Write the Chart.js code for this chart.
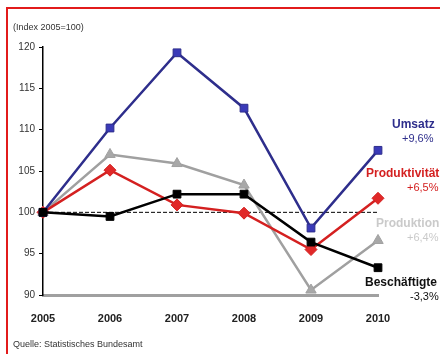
<!DOCTYPE html>
<html>
<head>
<meta charset="utf-8">
<script src="https://cdn.jsdelivr.net/npm/chart.js@4.4.1/dist/chart.umd.min.js"></script>
<style>
  html, body { margin: 0; padding: 0; background: #fff; }
  #wrap { position: relative; width: 440px; height: 354px; }
</style>
</head>
<body>
<div id="wrap"><canvas id="chart" width="440" height="354"></canvas></div>
<script>
'use strict';

const years = ['2005', '2006', '2007', '2008', '2009', '2010'];
const umsatz = [100, 110.2, 119.3, 112.6, 98.1, 107.5];
const produktivitaet = [100, 105.1, 100.9, 99.9, 95.5, 101.7];
const produktion = [100, 107.0, 105.9, 103.3, 90.6, 96.6];
const beschaeftigte = [100, 99.5, 102.2, 102.2, 96.4, 93.3];
const baseline = [100, 100, 100, 100, 100, 100];
const yTicks = [90, 95, 100, 105, 110, 115, 120];

const seriesNames = ['Umsatz', 'Produktivität', 'Produktion', 'Beschäftigte'];
const seriesChanges = ['+9,6%', '+6,5%', '+6,4%', '-3,3%'];

// Beschriftungen rechts neben den Linien
const endLabels = {
  id: 'endLabels',
  afterDraw(chart) {
    const ctx = chart.ctx;
    const spots = [
      { x: 392, y: 125, x2: 402, color: '#2e2e8c' },
      { x: 366, y: 174, x2: 407, color: '#d42020' },
      { x: 376, y: 224, x2: 407, color: '#cacaca' },
      { x: 365, y: 283, x2: 410, color: '#111' },
    ];
    ctx.save();
    ctx.textBaseline = 'middle';
    ctx.textAlign = 'left';
    seriesNames.forEach((name, i) => {
      const s = spots[i];
      ctx.fillStyle = s.color;
      ctx.font = 'bold 12px "Liberation Sans", Arial, sans-serif';
      ctx.fillText(name, s.x, s.y);
      ctx.font = '11px "Liberation Sans", Arial, sans-serif';
      ctx.fillText(seriesChanges[i], s.x2, s.y + 14);
    });

    ctx.fillStyle = '#333';
    ctx.font = '9px "Liberation Sans", Arial, sans-serif';
    ctx.fillText('(Index 2005=100)', 13, 28);
    ctx.fillText('Quelle: Statistisches Bundesamt', 13, 345);

    // roter Rahmen
    ctx.strokeStyle = '#e21b1b';
    ctx.lineWidth = 2;
    ctx.beginPath();
    ctx.moveTo(7, 354);
    ctx.lineTo(7, 8);
    ctx.lineTo(440, 8);
    ctx.stroke();
    ctx.restore();
  },
};

const ctx = document.getElementById('chart').getContext('2d');
new Chart(ctx, {
  type: 'line',
  data: {
    labels: years,
    datasets: [
      {
        label: 'Umsatz',
        data: umsatz,
        borderColor: '#2e2e8c',
        backgroundColor: '#3a3ab8',
        borderWidth: 2.5,
        pointStyle: 'rect',
        pointRadius: 5.5,
        pointBorderWidth: 1,
        order: 1,
      },
      {
        label: 'Produktivität',
        data: produktivitaet,
        borderColor: '#d42020',
        backgroundColor: '#e02828',
        borderWidth: 2.5,
        pointStyle: 'rectRot',
        pointRadius: 6,
        pointBorderWidth: 1,
        order: 2,
      },
      {
        label: 'Produktion',
        data: produktion,
        borderColor: '#a0a0a0',
        backgroundColor: '#a8a8a8',
        borderWidth: 2.5,
        pointStyle: 'triangle',
        pointRadius: 6,
        pointBorderWidth: 1,
        order: 3,
      },
      {
        label: 'Beschäftigte',
        data: beschaeftigte,
        borderColor: '#000',
        backgroundColor: '#000',
        borderWidth: 2.5,
        pointStyle: 'rect',
        pointRadius: 5.5,
        pointBorderWidth: 1,
        order: 0,
      },
      {
        label: 'Basis',
        data: baseline,
        borderColor: '#000',
        borderWidth: 1,
        borderDash: [4, 2],
        pointRadius: 0,
        order: 5,
      },
    ],
  },
  options: {
    responsive: false,
    animation: false,
    layout: { padding: { top: 47, right: 62, left: 0, bottom: 0 } },
    plugins: {
      legend: { display: false },
      tooltip: { enabled: false },
    },
    elements: { line: { tension: 0 } },
    scales: {
      x: {
        offset: false,
        grid: { display: false },
        border: { display: true, color: '#a0a0a0', width: 3 },
        ticks: {
          color: '#222',
          font: { family: '"Liberation Sans", Arial, sans-serif', size: 11, weight: 'bold' },
          padding: 9,
          maxRotation: 0,
        },
        afterFit: scale => { scale.height = 59; },
      },
      y: {
        min: 90,
        max: 120,
        afterBuildTicks: scale => { scale.ticks = yTicks.map(v => ({ value: v })); },
        grid: { drawOnChartArea: false, drawTicks: true, tickLength: 4, color: '#000' },
        border: { display: true, color: '#000', width: 1.5 },
        ticks: {
          color: '#333',
          font: { family: '"Liberation Sans", Arial, sans-serif', size: 10 },
          padding: 4,
        },
        afterFit: scale => { scale.width = 43; },
      },
    },
  },
  plugins: [endLabels],
});
</script>
</body>
</html>
